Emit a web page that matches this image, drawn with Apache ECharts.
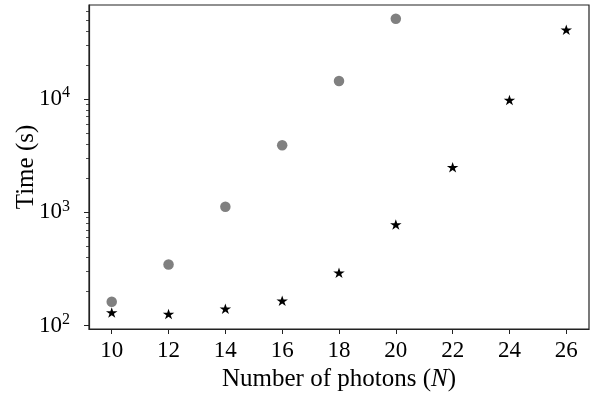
<!DOCTYPE html>
<html>
<head>
<meta charset="utf-8">
<script src="https://cdn.jsdelivr.net/npm/echarts@6/dist/echarts.min.js"></script>
<style>html,body{margin:0;padding:0;background:#fff}#c{width:592px;height:396px}</style>
</head>
<body>
<div id="c"></div>
<script>
// Data
const photonsA = [10, 12, 14, 16, 18, 20];
const timeA = [163, 347, 1120, 3910, 14400, 51000];
const photonsB = [10, 12, 14, 16, 18, 20, 22, 24, 26];
const timeB = [131, 127, 141, 166, 294, 783, 2500, 9800, 40800];
const xTicks = [10, 12, 14, 16, 18, 20, 22, 24, 26];
const yMajorTicks = [100, 1000, 10000];
const yMinorTicks = [200, 300, 400, 500, 600, 700, 800, 900,
  2000, 3000, 4000, 5000, 6000, 7000, 8000, 9000,
  20000, 30000, 40000, 50000, 60000];

const FONT = '"Liberation Serif", "DejaVu Serif", serif';
const STAR = 'path://M0,-1 L0.2245,-0.309 L0.951,-0.309 L0.363,0.118 L0.588,0.809 L0,0.382 L-0.588,0.809 L-0.363,0.118 L-0.951,-0.309 L-0.2245,-0.309 Z';
const AX = '#222';
const YMIN = 93.6, YMAX = 67500;

const chart = echarts.init(document.getElementById('c'), null, {renderer: 'canvas'});
chart.setOption({
  animation: false,
  textStyle: {fontFamily: FONT},
  grid: {left: 89, right: 3, top: 5, bottom: 67, outerBoundsMode: 'none', containLabel: false,
    show: true, borderColor: AX, borderWidth: 1.2, backgroundColor: 'transparent'},
  xAxis: {
    type: 'value', min: 9.2, max: 26.8,
    axisLine: {show: true, lineStyle: {color: AX, width: 1.2}},
    axisTick: {show: true, length: 5, customValues: xTicks, lineStyle: {color: AX}},
    axisLabel: {customValues: xTicks, color: '#000', fontSize: 23, fontFamily: FONT, margin: 10},
    splitLine: {show: false},
    name: '{n|Number of photons (}{i|N}{n|)}',
    nameLocation: 'middle', nameGap: 38, nameMoveOverlap: false,
    nameTextStyle: {rich: {
      n: {fontSize: 25, fontFamily: FONT, color: '#000'},
      i: {fontSize: 25, fontFamily: FONT, fontStyle: 'italic', color: '#000'}
    }}
  },
  yAxis: [{
    type: 'log', logBase: 10, min: YMIN, max: YMAX,
    axisLine: {show: true, lineStyle: {color: AX, width: 1.2}},
    axisTick: {show: true, length: 5, customValues: yMajorTicks, lineStyle: {color: AX}},
    axisLabel: {
      customValues: yMajorTicks, margin: 19,
      formatter: v => '{b|10}{s|' + Math.round(Math.log10(v)) + '}',
      rich: {
        b: {fontSize: 23, fontFamily: FONT, color: '#000'},
        s: {fontSize: 16, fontFamily: FONT, color: '#000', verticalAlign: 'bottom', padding: [0, 0, 12, 0]}
      }
    },
    splitLine: {show: false},
    minorTick: {show: false},
    name: 'Time (s)', nameLocation: 'middle', nameGap: 50, nameMoveOverlap: false,
    nameTextStyle: {fontSize: 25, fontFamily: FONT, color: '#000'}
  }, {
    type: 'log', logBase: 10, min: YMIN, max: YMAX, position: 'left',
    axisLine: {show: false},
    axisTick: {show: true, length: 3, customValues: yMinorTicks, lineStyle: {color: AX, width: 0.8}},
    axisLabel: {show: false},
    splitLine: {show: false}
  }],
  series: [{
    type: 'scatter', data: photonsA.map((x, i) => [x, timeA[i]]),
    symbol: 'circle', symbolSize: 10.5,
    itemStyle: {color: '#808080', opacity: 1}
  }, {
    type: 'scatter', data: photonsB.map((x, i) => [x, timeB[i]]),
    symbol: STAR, symbolSize: [11.5, 11], symbolKeepAspect: true,
    itemStyle: {color: '#000', opacity: 1}
  }]
});
</script>
</body>
</html>
